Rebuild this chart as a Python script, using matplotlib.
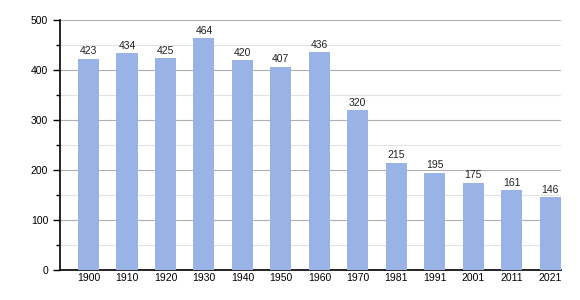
import matplotlib
matplotlib.use("Agg")
import matplotlib.pyplot as plt
from matplotlib.ticker import MultipleLocator

years = ["1900", "1910", "1920", "1930", "1940", "1950", "1960",
         "1970", "1981", "1991", "2001", "2011", "2021"]
population = [423, 434, 425, 464, 420, 407, 436, 320, 215, 195, 175, 161, 146]

plt.rcParams["font.family"] = ["Liberation Sans", "DejaVu Sans"]

fig = plt.figure(figsize=(5.8, 3.0), dpi=100)
ax = fig.add_axes([60 / 580, 30 / 300, 501 / 580, 250 / 300])

x = range(len(years))
ax.bar(x, population, width=0.55, color="#99b3e6", zorder=3)
for i, v in zip(x, population):
    ax.text(i, v + 4, str(v), ha="center", va="bottom", fontsize=7.5, color="#222222", zorder=4)

ax.set_xlim(-0.74, 12.28)
ax.set_ylim(0, 500)
ax.yaxis.set_major_locator(MultipleLocator(100))
ax.yaxis.set_minor_locator(MultipleLocator(50))
ax.grid(axis="y", which="major", color="#b0b0b0", linewidth=0.8, zorder=0)
ax.grid(axis="y", which="minor", color="#e3e3e3", linewidth=0.8, zorder=0)

ax.set_xticks(list(x))
ax.set_xticklabels(years)
ax.tick_params(axis="x", length=0, labelsize=7.5, pad=2)
ax.tick_params(axis="y", which="major", length=5, labelsize=7.5, width=1)
ax.tick_params(axis="y", which="minor", length=3, width=1)

for side in ["top", "right"]:
    ax.spines[side].set_visible(False)
ax.spines["left"].set_linewidth(1.2)
ax.spines["bottom"].set_linewidth(1.2)

fig.savefig("out.png", dpi=100)
